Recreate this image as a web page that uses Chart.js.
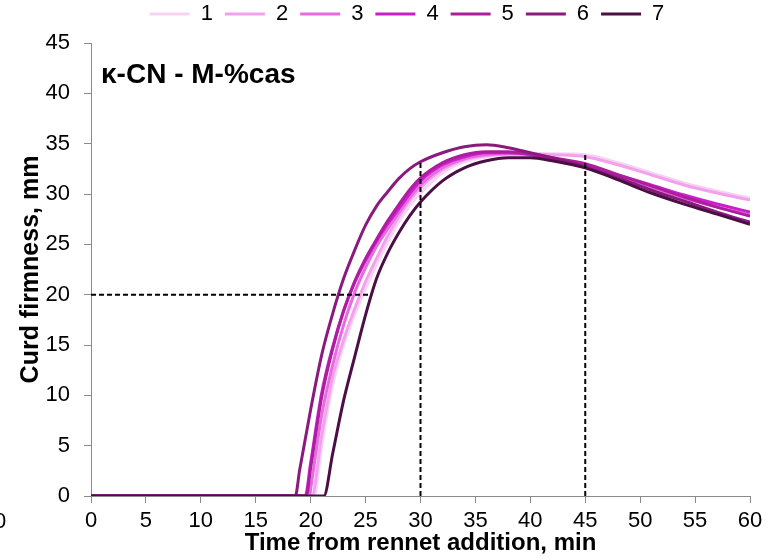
<!DOCTYPE html>
<html>
<head>
<meta charset="utf-8">
<script src="https://cdn.jsdelivr.net/npm/chart.js@4.4.1/dist/chart.umd.min.js"></script>
<style>
  html, body { margin: 0; padding: 0; background: #ffffff; }
  #wrap { width: 771px; height: 559px; position: relative; }
</style>
</head>
<body>
<div id="wrap"><canvas id="chart" width="771" height="559"></canvas></div>
<script>
// Curd firmness (mm) after rennet addition, seven κ-CN / casein samples
const seriesNames  = ['1', '2', '3', '4', '5', '6', '7'];
const seriesColors = ['#f8d2f3', '#f2a2ec', '#e76ae1', '#cc1fcc', '#ad1e9f', '#8b1a7e', '#4b0f45'];

// time grid (min) shared by all series after coagulation onset
const minutes = [19, 20, 21, 22, 23, 24, 25, 26, 27, 28, 29, 30, 32, 34, 36, 38, 40, 42, 45, 48, 51, 54, 57, 60];
// time (min) at which firmness starts to rise from zero
const onsetMin = [20.3, 20.1, 19.9, 19.5, 19.6, 18.6, 21.2];

const firm1 = [0, 0, 5.0, 11.0, 15.0, 18.0, 20.6, 23.0, 25.2, 27.2, 28.8, 30.1, 32.1, 33.2, 33.7, 33.9, 34.0, 34.0, 33.9, 33.1, 32.1, 31.1, 30.3, 29.6];
const firm2 = [0, 0, 6.0, 11.8, 15.5, 18.6, 21.3, 23.6, 25.8, 27.7, 29.3, 30.6, 32.4, 33.4, 33.8, 34.0, 34.0, 33.9, 33.7, 32.9, 31.9, 30.9, 30.1, 29.4];
const firm3 = [0, 0.7, 8.0, 13.0, 17.0, 20.2, 22.7, 24.8, 26.5, 28.1, 29.6, 30.9, 32.6, 33.5, 33.9, 34.0, 33.9, 33.5, 32.9, 31.8, 30.7, 29.6, 28.7, 27.9];
const firm4 = [0, 3.3, 10.2, 14.8, 18.4, 21.2, 23.4, 25.3, 27.0, 28.5, 30.0, 31.3, 32.9, 33.7, 34.1, 34.1, 33.9, 33.5, 32.9, 31.9, 30.9, 29.9, 29.0, 28.2];
const firm5 = [0, 2.8, 9.8, 14.6, 18.4, 21.3, 23.6, 25.5, 27.3, 28.9, 30.4, 31.6, 33.1, 33.9, 34.2, 34.2, 34.0, 33.6, 33.0, 31.9, 30.8, 29.7, 28.7, 27.8];
const firm6 = [2.6, 8.6, 14.0, 18.1, 21.6, 24.4, 26.9, 28.8, 30.2, 31.5, 32.5, 33.2, 34.1, 34.7, 34.9, 34.6, 34.1, 33.6, 32.7, 31.6, 30.4, 29.3, 28.2, 27.2];
const firm7 = [0, 0, 0, 4.2, 9.5, 13.8, 18.0, 21.6, 24.1, 26.1, 27.8, 29.2, 31.3, 32.6, 33.3, 33.6, 33.6, 33.3, 32.6, 31.4, 30.1, 29.0, 28.0, 27.0];
const firmness = [firm1, firm2, firm3, firm4, firm5, firm6, firm7];

// reference guides: 20 mm level, and readings at 30 and 45 min
const guideLevel = 20;
const guideReachMin = 25.5;
const markerMin = [30, 45];
const markerTop = [33.2, 33.9];

const xTicks = { min: 0, max: 60, step: 5 };
const yTicks = { min: 0, max: 45, step: 5 };

const FONT = '"Liberation Sans", Arial, Helvetica, sans-serif';

function seriesPoints(i) {
  const pts = [{ x: 0, y: 0 }, { x: onsetMin[i], y: 0 }];
  minutes.forEach((t, k) => { if (t > onsetMin[i]) pts.push({ x: t, y: firmness[i][k] }); });
  return pts;
}

const guideStyle = {
  borderColor: '#000000', borderWidth: 2, borderDash: [5, 3],
  pointRadius: 0, fill: false, order: -1, isGuide: true
};

const datasets = [
  Object.assign({ label: 'guide', data: [{ x: 0, y: guideLevel }, { x: guideReachMin, y: guideLevel }] }, guideStyle),
  ...markerMin.map((t, k) => Object.assign({ label: 'guide', data: [{ x: t, y: 0 }, { x: t, y: markerTop[k] }] }, guideStyle)),
  ...seriesNames.map((name, i) => ({
    label: name,
    data: seriesPoints(i),
    borderColor: seriesColors[i],
    backgroundColor: seriesColors[i],
    borderWidth: 3,
    pointRadius: 0,
    cubicInterpolationMode: 'monotone',
    fill: false,
    order: seriesNames.length - i
  }))
];

// panel heading inside the plot, legend placement, and the clipped neighbouring tick
const panelDecor = {
  id: 'panelDecor',
  afterLayout(chart) {
    const lg = chart.legend;
    if (lg) { lg.left += 32; lg.right += 32; lg.top -= 8; lg.bottom -= 8; }
  },
  afterDraw(chart) {
    const ctx = chart.ctx;
    const a = chart.chartArea;
    ctx.save();
    ctx.fillStyle = '#000000';
    ctx.textBaseline = 'alphabetic';
    ctx.textAlign = 'left';
    ctx.font = 'bold 28px ' + FONT;
    ctx.fillText('κ-CN - M-%cas', a.left + 10, a.top + 40);
    ctx.font = '22px ' + FONT;
    ctx.textBaseline = 'middle';
    ctx.fillText('0', -6, 522);
    ctx.restore();
  }
};

new Chart(document.getElementById('chart'), {
  type: 'line',
  data: { datasets },
  plugins: [panelDecor],
  options: {
    responsive: false,
    animation: false,
    devicePixelRatio: 1,
    layout: { padding: { top: -1, right: 21, left: 0, bottom: 0 } },
    plugins: {
      tooltip: { enabled: false },
      legend: {
        display: true,
        position: 'top',
        labels: {
          usePointStyle: true,
          pointStyle: 'line',
          pointStyleWidth: 40,
          padding: 12,
          color: '#000000',
          font: { family: FONT, size: 22 },
          filter: (item, data) => !data.datasets[item.datasetIndex].isGuide,
          sort: (a, b) => a.datasetIndex - b.datasetIndex
        }
      }
    },
    scales: {
      x: {
        type: 'linear',
        min: xTicks.min, max: xTicks.max,
        afterFit: (s) => { s.height = 63; },
        ticks: { stepSize: xTicks.step, color: '#000000', padding: 5, font: { family: FONT, size: 22 }, maxRotation: 0 },
        grid: { display: true, drawOnChartArea: false, drawTicks: true, tickLength: 7, color: '#8a8a8a' },
        border: { display: true, color: '#8a8a8a', width: 1 },
        title: { display: true, text: 'Time from rennet addition, min', color: '#000000',
                 font: { family: FONT, size: 24, weight: 'bold' }, padding: { top: 0, bottom: 1 } }
      },
      y: {
        type: 'linear',
        min: yTicks.min, max: yTicks.max,
        afterFit: (s) => { s.width = 91; },
        ticks: { stepSize: yTicks.step, color: '#000000', padding: 14, font: { family: FONT, size: 22 } },
        grid: { display: true, drawOnChartArea: false, drawTicks: true, tickLength: 7, color: '#8a8a8a' },
        border: { display: true, color: '#8a8a8a', width: 1 },
        title: { display: true, text: 'Curd firmness, mm', color: '#000000',
                 font: { family: FONT, size: 25, weight: 'bold' }, padding: { top: 16, bottom: 0 } }
      }
    }
  }
});
</script>
</body>
</html>
